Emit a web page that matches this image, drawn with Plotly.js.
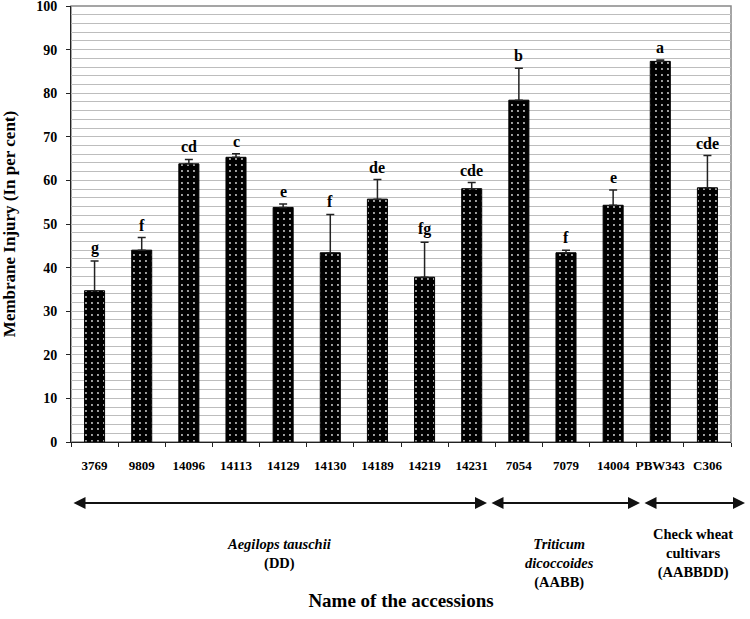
<!DOCTYPE html>
<html>
<head>
<meta charset="utf-8">
<script src="https://cdn.plot.ly/plotly-3.0.1.min.js"></script>
<style>html,body{margin:0;padding:0;background:#fff;}#chart{width:750px;height:619px;}</style>
</head>
<body>
<div id="chart"></div>
<script>
// Data
const accessions = ["3769","9809","14096","14113","14129","14130","14189","14219","14231","7054","7079","14004","PBW343","C306"];
const injury     = [34.7, 44.0, 63.8, 65.3, 53.8, 43.4, 55.7, 37.8, 58.1, 78.4, 43.4, 54.3, 87.3, 58.3];
const errorUp    = [6.8, 2.9, 1.0, 0.8, 0.8, 8.8, 4.5, 8.0, 1.4, 7.3, 0.6, 3.5, 0.3, 7.4];
const letters    = ["g","f","cd","c","e","f","de","fg","cde","b","f","e","a","cde"];
const groupLabels = [
  "<i>Aegilops tauschii</i><br>(DD)",
  "<i>Triticum</i><br><i>dicoccoides</i><br>(AABB)",
  "Check wheat<br>cultivars<br>(AABBDD)"
];

const serif = "Liberation Serif, Times New Roman, serif";

const trace = {
  type: "bar",
  x: accessions,
  y: injury,
  marker: {
    color: "#000",
    line: {color: "#000", width: 1},
    pattern: {shape: ".", fgcolor: "#d8d8d8", bgcolor: "#000000", size: 6, solidity: 0.08}
  },
  error_y: {
    type: "data", symmetric: false, array: errorUp,
    arrayminus: accessions.map(() => 0),
    color: "#222", thickness: 1.5, width: 4
  },
  hoverinfo: "x+y"
};

const annotations = [];
accessions.forEach((a, i) => {
  annotations.push({
    x: i, y: injury[i] + errorUp[i], xref: "x", yref: "y",
    text: "<b>" + letters[i] + "</b>", showarrow: false,
    yanchor: "bottom", yshift: 2,
    font: {family: serif, size: 16, color: "#000"}
  });
});

// Group arrows (paper coordinates; plot area 660 px wide, 436 px tall)
const W = 660, H = 436;
const arrowY = -61 / H;
function addArrow(x0px, x1px) {
  annotations.push({
    xref: "paper", yref: "paper",
    x: x1px / W, y: arrowY,
    ax: -(x1px - x0px), ay: 0, axref: "pixel", ayref: "pixel",
    text: "", showarrow: true, arrowside: "end+start",
    arrowhead: 2, arrowsize: 1.2, arrowwidth: 2, arrowcolor: "#111"
  });
}
addArrow(1, 416);
addArrow(419, 569);
addArrow(572, 674);

const groupPos = [[208, -92], [488, -92], [622, -82]];
groupLabels.forEach((t, i) => {
  annotations.push({
    xref: "paper", yref: "paper",
    x: groupPos[i][0] / W, y: groupPos[i][1] / H,
    text: "<b>" + t + "</b>", showarrow: false,
    xanchor: "center", yanchor: "top", align: "center",
    font: {family: serif, size: 14.5, color: "#000"}
  });
});

const layout = {
  width: 750, height: 619,
  margin: {l: 71, r: 19, t: 6, b: 177},
  paper_bgcolor: "#fff", plot_bgcolor: "#fff",
  showlegend: false,
  bargap: 0.575,
  xaxis: {
    type: "category",
    range: [-0.5, accessions.length - 0.5],
    showline: true, linecolor: "#222", linewidth: 1,
    ticks: "outside", ticklen: 4, tickcolor: "#222", tickson: "boundaries",
    ticklabelstandoff: 11, tickangle: 0,
    tickfont: {family: serif, size: 13, color: "#000", weight: "bold"},
    showgrid: false, zeroline: false,
    title: {text: "<b>Name of the accessions</b>", standoff: 122,
            font: {family: serif, size: 19, color: "#000"}},
    automargin: false
  },
  yaxis: {
    range: [0, 100], tick0: 0, dtick: 10,
    showline: true, linecolor: "#222", linewidth: 1,
    ticks: "outside", ticklen: 4, tickcolor: "#222",
    ticklabelstandoff: 6, ticklabeloverflow: "allow",
    tickfont: {family: serif, size: 14, color: "#000", weight: "bold"},
    showgrid: true, gridcolor: "#bdbdbd", gridwidth: 1,
    minor: {dtick: 2, showgrid: true, gridcolor: "#bdbdbd", gridwidth: 1},
    zeroline: false,
    title: {text: "<b>Membrane Injury (In per cent)</b>", standoff: 20,
            font: {family: serif, size: 17, color: "#000"}},
    automargin: false
  },
  shapes: [{
    type: "rect", xref: "paper", yref: "paper", x0: 0, x1: 1, y0: 0, y1: 1,
    line: {color: "#888", width: 1.5}, layer: "below"
  }],
  annotations: annotations
};

Plotly.newPlot("chart", [trace], layout, {displayModeBar: false, staticPlot: true});
</script>
</body>
</html>
